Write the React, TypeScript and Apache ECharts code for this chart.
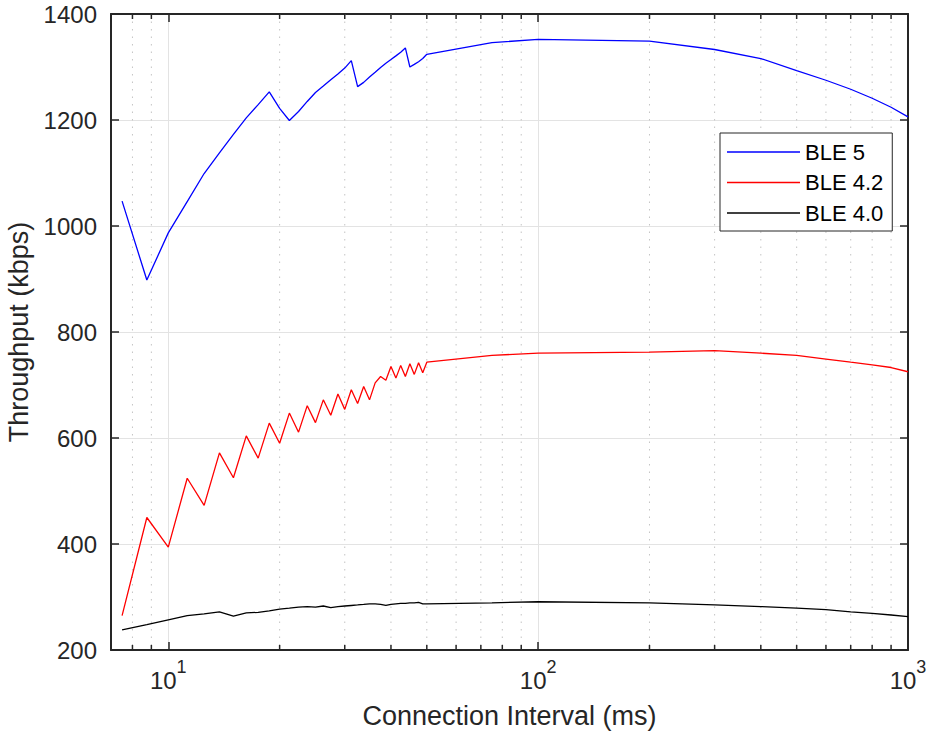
import React, { useEffect, useRef } from "react";
import * as echarts from "echarts";

// Connection intervals (ms)
const intervals = [
  7.5, 8.75, 10, 11.25, 12.5, 13.75, 15, 16.25, 17.5, 18.75, 20, 21.25, 22.5, 23.75, 25, 26.25, 27.5,
  28.75, 30, 31.25, 32.5, 33.75, 35, 36.25, 37.5, 38.75, 40, 41.25, 42.5, 43.75, 45, 46.25, 47.5, 48.75,
  50, 75, 100, 200, 300, 400, 500, 600, 700, 800, 900, 1000,
];

// Throughput (kbps)
const ble5 = [
  1047, 898, 987, 1046, 1099, 1138, 1173, 1204, 1229, 1253, 1222, 1199, 1216, 1235, 1252, 1264, 1276,
  1287, 1298, 1312, 1263, 1271, 1281, 1290, 1299, 1307, 1314, 1321, 1328, 1336, 1300, 1305, 1310, 1316,
  1324, 1346, 1352, 1349, 1333, 1316, 1293, 1275, 1258, 1241, 1224, 1206,
];
const ble42 = [
  265, 450, 394, 524, 473, 572, 525, 604, 562, 628, 590, 647, 611, 661, 629, 672, 643,
  683, 654, 691, 665, 697, 672, 704, 716, 709, 735, 713, 737, 716, 740, 720, 742, 723,
  743, 756, 760, 762, 765, 760, 756, 749, 743, 738, 733, 725,
];
const ble40 = [
  238, 248, 257, 265, 268, 272, 264, 270, 271, 274, 277, 279, 281, 282, 281, 283, 280,
  282, 283, 284, 285, 286, 287, 287, 286, 284, 286, 287, 288, 288, 289, 289, 290, 287,
  287, 289, 291, 289, 285, 282, 279, 276, 272, 269, 266, 263,
];

const seriesNames = ["BLE 5", "BLE 4.2", "BLE 4.0"];
const minorTicks = [8, 9, 20, 30, 40, 50, 60, 70, 80, 90, 200, 300, 400, 500, 600, 700, 800, 900];

const X_MIN = 7;
const X_MAX = 1000;
const Y_MIN = 200;
const Y_MAX = 1400;
const Y_STEP = 200;

const FONT = "'Liberation Sans', Arial, Helvetica, sans-serif";
const AXIS_COLOR = "#262626";

export default function App() {
  const ref = useRef<HTMLDivElement>(null);

  useEffect(() => {
    if (!ref.current) return;
    const chart = echarts.init(ref.current, undefined, { renderer: "svg" });

    const pairs = (vals: number[]) => intervals.map((x, i) => [x, vals[i]]);
    const tickLine = { color: AXIS_COLOR, width: 1.5 };

    const baseX = {
      type: "log" as const,
      logBase: 10,
      min: X_MIN,
      max: X_MAX,
      gridIndex: 0,
      axisLine: { show: true, lineStyle: { color: AXIS_COLOR, width: 2 } },
      axisTick: { show: true, inside: true, length: 8, lineStyle: tickLine },
    };
    const baseY = {
      type: "value" as const,
      min: Y_MIN,
      max: Y_MAX,
      interval: Y_STEP,
      gridIndex: 0,
      axisLine: { show: true, lineStyle: { color: AXIS_COLOR, width: 2 } },
      axisTick: { show: true, inside: true, length: 8, lineStyle: tickLine },
    };

    const option: any = {
      animation: false,
      backgroundColor: "#fff",
      grid: { left: 111, right: 29, top: 14, bottom: 85, containLabel: false, outerBoundsMode: "none" },
      legend: {
        data: seriesNames,
        orient: "vertical",
        left: 720,
        top: 133,
        padding: [8, 9, 7, 7],
        itemGap: 8.5,
        itemWidth: 73,
        itemHeight: 1.5,
        icon: "rect",
        backgroundColor: "#fff",
        borderColor: AXIS_COLOR,
        borderWidth: 1,
        borderRadius: 0,
        selectedMode: false,
        textStyle: { fontSize: 22, lineHeight: 22, color: "#000", fontFamily: FONT },
      },
      xAxis: [
        {
          ...baseX,
          position: "bottom",
          name: "Connection Interval (ms)",
          nameLocation: "middle",
          nameGap: 52,
          nameTextStyle: { fontSize: 27, color: AXIS_COLOR, fontFamily: FONT },
          splitLine: { show: true, lineStyle: { color: "#e3e3e3", width: 1 } },
          axisLabel: {
            show: true,
            margin: 8,
            showMinLabel: false,
            formatter: (v: number) => {
              const e = Math.round(Math.log10(v));
              if (Math.abs(Math.pow(10, e) - v) > 1e-6 * v) return "";
              return `{b|10}{s|${e}}`;
            },
            rich: {
              b: { fontSize: 24, color: AXIS_COLOR, fontFamily: FONT, verticalAlign: "bottom", padding: [10, 0, 0, 0] },
              s: { fontSize: 18, color: AXIS_COLOR, fontFamily: FONT, verticalAlign: "top" },
            },
          },
        },
        {
          ...baseX,
          position: "top",
          axisLabel: { show: false },
          splitLine: { show: false },
        },
      ],
      yAxis: [
        {
          ...baseY,
          position: "left",
          name: "Throughput (kbps)",
          nameLocation: "middle",
          nameGap: 70,
          nameRotate: 90,
          nameTextStyle: { fontSize: 27, color: AXIS_COLOR, fontFamily: FONT },
          splitLine: { show: true, lineStyle: { color: "#e3e3e3", width: 1 } },
          axisLabel: {
            show: true,
            margin: 14,
            fontSize: 24,
            color: AXIS_COLOR,
            fontFamily: FONT,
            formatter: (v: number) => String(v),
          },
        },
        {
          ...baseY,
          position: "right",
          axisLabel: { show: false },
          splitLine: { show: false },
        },
      ],
      series: [
        {
          type: "custom",
          name: "minor",
          xAxisIndex: 0,
          yAxisIndex: 0,
          silent: true,
          z: 1,
          data: minorTicks.map((v) => [v, Y_MIN]),
          renderItem: (_params: any, api: any) => {
            const v = api.value(0);
            const top = api.coord([v, Y_MAX]);
            const bot = api.coord([v, Y_MIN]);
            return {
              type: "group",
              children: [
                {
                  type: "line",
                  shape: { x1: top[0], y1: top[1], x2: bot[0], y2: bot[1] },
                  style: { stroke: "#c4c4c4", lineWidth: 1, lineDash: [1.5, 6] },
                },
                {
                  type: "line",
                  shape: { x1: bot[0], y1: bot[1], x2: bot[0], y2: bot[1] - 5 },
                  style: { stroke: AXIS_COLOR, lineWidth: 1.5 },
                },
                {
                  type: "line",
                  shape: { x1: top[0], y1: top[1], x2: top[0], y2: top[1] + 5 },
                  style: { stroke: AXIS_COLOR, lineWidth: 1.5 },
                },
              ],
            };
          },
        },
        {
          type: "line",
          name: seriesNames[0],
          data: pairs(ble5),
          symbol: "none",
          color: "#0000ff",
          lineStyle: { color: "#0000ff", width: 1.3 },
          z: 3,
        },
        {
          type: "line",
          name: seriesNames[1],
          data: pairs(ble42),
          symbol: "none",
          color: "#ff0000",
          lineStyle: { color: "#ff0000", width: 1.3 },
          z: 3,
        },
        {
          type: "line",
          name: seriesNames[2],
          data: pairs(ble40),
          symbol: "none",
          color: "#000000",
          lineStyle: { color: "#000000", width: 1.3 },
          z: 3,
        },
      ],
    };

    chart.setOption(option);
    return () => chart.dispose();
  }, []);

  return (
    <div
      ref={ref}
      style={{ position: "absolute", left: 0, top: 0, width: 937, height: 735, background: "#fff" }}
    />
  );
}
